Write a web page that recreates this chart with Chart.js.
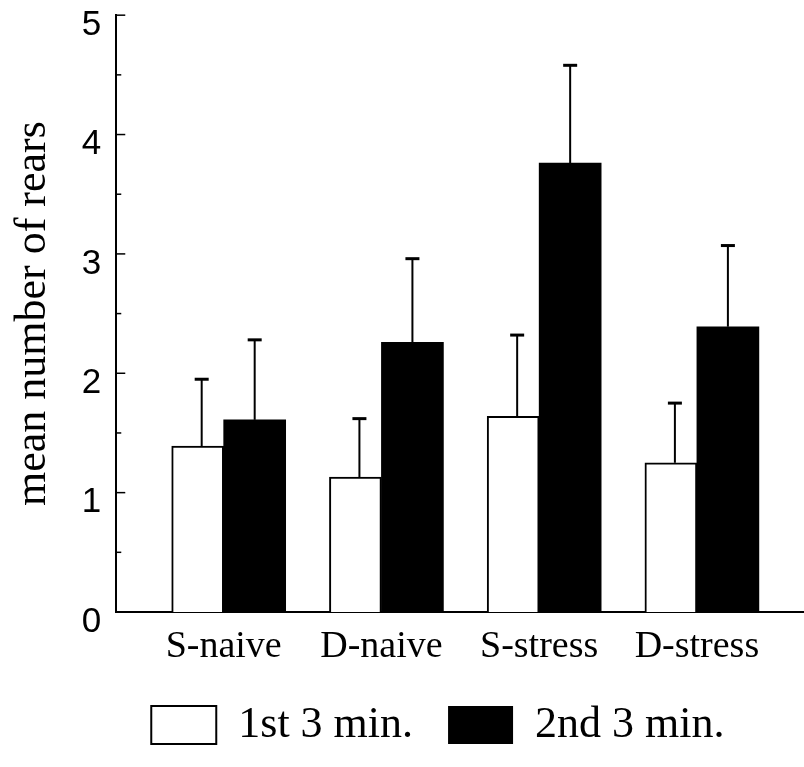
<!DOCTYPE html>
<html>
<head>
<meta charset="utf-8">
<script src="https://cdn.jsdelivr.net/npm/chart.js@4.4.1/dist/chart.umd.min.js"></script>
<style>
html,body{margin:0;padding:0;background:#fff;}
#wrap{width:804px;height:767px;}
</style>
</head>
<body>
<div id="wrap"><canvas id="c" width="804" height="767"></canvas></div>
<script>
// ---- data ----
const categories = ['S-naive', 'D-naive', 'S-stress', 'D-stress'];
const seriesNames = ['1st 3 min.', '2nd 3 min.'];
const firstMeans  = [1.39, 1.13, 1.64, 1.25];
const secondMeans = [1.61, 2.26, 3.76, 2.39];
const firstErr    = [0.56, 0.49, 0.68, 0.50];
const secondErr   = [0.67, 0.70, 0.82, 0.68];
const yTickValues = [0, 1, 2, 3, 4, 5];
const yTitle = 'mean number of rears';

const toPoints = arr => arr.map((v, i) => ({ x: i, y: v }));

const errorBars = {
  id: 'errorBars',
  afterDatasetsDraw(chart) {
    const ctx = chart.ctx;
    const yScale = chart.scales.y;
    chart.data.datasets.forEach((ds, di) => {
      const meta = chart.getDatasetMeta(di);
      meta.data.forEach((bar, j) => {
        const v = ds.data[j].y;
        const top = yScale.getPixelForValue(v + ds.errors[j]);
        const x = bar.x + (ds.errorShift || 0);
        ctx.save();
        ctx.strokeStyle = '#000';
        ctx.lineWidth = 2;
        ctx.beginPath();
        ctx.moveTo(x, bar.y);
        ctx.lineTo(x, top);
        ctx.stroke();
        ctx.lineWidth = 3;
        ctx.beginPath();
        ctx.moveTo(x - 7, top);
        ctx.lineTo(x + 7, top);
        ctx.stroke();
        ctx.restore();
      });
    });
  }
};

const inwardTicks = {
  id: 'inwardTicks',
  afterDraw(chart) {
    const ctx = chart.ctx;
    const y = chart.scales.y;
    const left = chart.chartArea.left;
    ctx.save();
    ctx.strokeStyle = '#000';
    ctx.lineWidth = 1.5;
    yTickValues.forEach((v, i) => {
      const py = y.getPixelForValue(v);
      ctx.beginPath(); ctx.moveTo(left, py); ctx.lineTo(left + 9, py); ctx.stroke();
      if (i < yTickValues.length - 1) {
        const pm = y.getPixelForValue((v + yTickValues[i + 1]) / 2);
        ctx.beginPath(); ctx.moveTo(left, pm); ctx.lineTo(left + 5, pm); ctx.stroke();
      }
    });
    ctx.restore();
  }
};

new Chart(document.getElementById('c'), {
  type: 'bar',
  data: {
    datasets: [
      {
        label: seriesNames[0],
        data: toPoints(firstMeans),
        errors: firstErr,
        errorShift: 4,
        backgroundColor: '#ffffff',
        borderColor: '#000000',
        borderWidth: 2,
        barThickness: 52
      },
      {
        label: seriesNames[1],
        data: toPoints(secondMeans),
        errors: secondErr,
        backgroundColor: '#000000',
        borderColor: '#000000',
        borderWidth: 0,
        barThickness: 62
      }
    ]
  },
  options: {
    responsive: false,
    devicePixelRatio: 1,
    animation: false,
    layout: { padding: { top: 0, left: 7, right: 0, bottom: 10 } },
    plugins: {
      tooltip: { enabled: false },
      legend: {
        position: 'bottom',
        fullSize: false,
        align: 'start',
        labels: {
          color: '#000',
          boxWidth: 65,
          boxHeight: 38,
          padding: 35,
          font: { family: 'Liberation Serif', size: 44 }
        }
      }
    },
    scales: {
      x: {
        type: 'linear',
        min: -0.681,
        max: 3.679,
        offset: false,
        afterBuildTicks: axis => { axis.ticks = categories.map((c, i) => ({ value: i })); },
        afterFit: axis => { axis.height = 56; },
        grid: { display: false, drawTicks: false },
        border: { display: true, color: '#000', width: 2 },
        ticks: {
          autoSkip: false,
          maxRotation: 0,
          padding: 12,
          color: '#000',
          font: { family: 'Liberation Serif', size: 38 },
          callback: v => categories[v]
        }
      },
      y: {
        min: 0,
        max: 5,
        grid: { display: false, drawTicks: false },
        border: { display: true, color: '#000', width: 2 },
        ticks: {
          stepSize: 1,
          padding: 15,
          labelOffset: 10,
          color: '#000',
          font: { family: 'Liberation Sans', size: 35, lineHeight: 0.01 }
        },
        title: {
          display: true,
          text: yTitle,
          color: '#000',
          padding: { top: 0, bottom: 7 },
          font: { family: 'Liberation Serif', size: 44 }
        }
      }
    }
  },
  plugins: [errorBars, inwardTicks]
});
</script>
</body>
</html>
